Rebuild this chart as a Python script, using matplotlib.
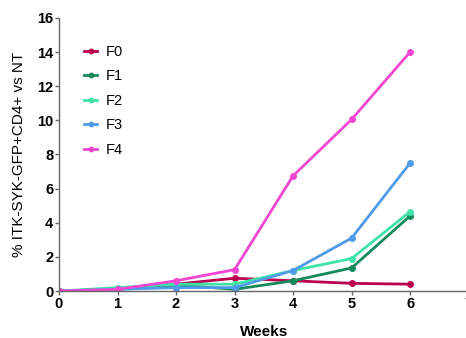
import matplotlib.pyplot as plt

plt.switch_backend('Agg')
plt.rcParams['font.family'] = ['Liberation Sans', 'DejaVu Sans']

semanas = [0, 1, 2, 3, 4, 5, 6]
series = ['F0', 'F1', 'F2', 'F3', 'F4']
f0 = [0, 0.1, 0.4, 0.75, 0.6, 0.45, 0.4]
f1 = [0, 0.1, 0.35, 0.1, 0.6, 1.35, 4.4]
f2 = [0, 0.2, 0.4, 0.4, 1.2, 1.9, 4.65]
f3 = [0, 0.1, 0.2, 0.2, 1.2, 3.1, 7.5]
f4 = [0, 0.1, 0.6, 1.25, 6.75, 10.05, 14.0]
cores = ['#B8004F', '#168A5A', '#3FE3A5', '#4F9BEA', '#F046D2']

fig = plt.figure(figsize=(4.66, 3.38), dpi=100)
ax = fig.add_axes([0.1266, 0.139, 0.879, 0.808])

for nome, valores, cor in zip(series, [f0, f1, f2, f3, f4], cores):
    ax.plot(semanas, valores, color=cor, linewidth=2, marker='o', markersize=4, label=nome)

ax.set_xlim(0, 7)
ax.set_ylim(0, 16)
ax.set_xticks(range(0, 8))
ax.set_yticks(range(0, 17, 2))
for lbl in ax.get_xticklabels() + ax.get_yticklabels():
    lbl.set_fontweight('bold')
    lbl.set_fontsize(10.5)
ax.spines['top'].set_visible(False)
ax.spines['right'].set_visible(False)
for s in ['left', 'bottom']:
    ax.spines[s].set_color('#666666')
    ax.spines[s].set_linewidth(1)
ax.tick_params(colors='#666666', labelcolor='black', length=3, width=1, pad=1)

ax.set_xlabel('Weeks', fontsize=11, fontweight='bold')
ax.xaxis.set_label_coords(0.5, -0.124)
ax.set_ylabel('% ITK-SYK-GFP+CD4+ vs NT', fontsize=11, labelpad=8)

ax.legend(loc='upper left', bbox_to_anchor=(0.03, 0.95), frameon=False,
          fontsize=10.5, handlelength=0.85, labelspacing=0.72, handletextpad=0.6,
          markerscale=0.8)

plt.savefig('out.png')
plt.close()
